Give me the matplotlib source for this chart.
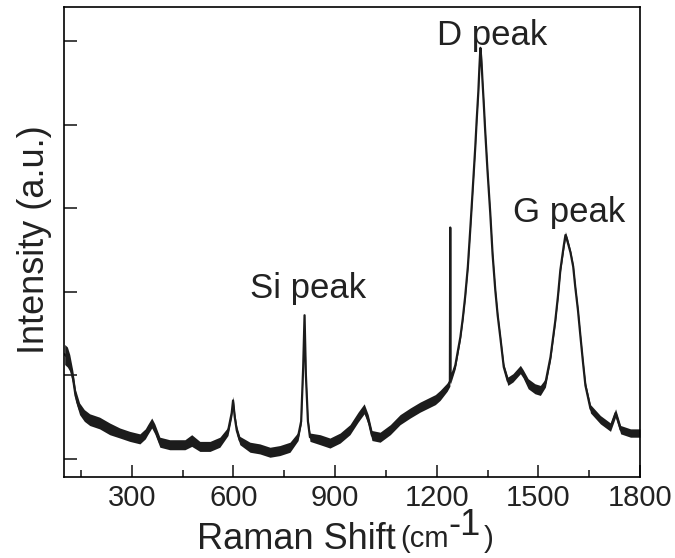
import matplotlib
matplotlib.use("Agg")
import matplotlib.pyplot as plt
import numpy as np

plt.rcParams['font.family'] = ['Liberation Sans', 'DejaVu Sans']

# values
raman_shift = [102, 110, 117, 126, 134, 146, 160, 176, 205, 235, 265, 294, 324, 340,
               347, 359, 368, 383, 412, 457, 477, 501, 531, 560, 584, 595, 599, 604,
               610, 619, 649, 678, 708, 737, 767, 791, 800, 806, 810, 814, 820, 826,
               856, 885, 915, 944, 968, 986, 998, 1009, 1033, 1063, 1092, 1122, 1151,
               1196, 1210, 1231, 1239, 1240, 1241, 1255, 1262, 1270, 1277, 1284, 1292,
               1299, 1306, 1314, 1318, 1323, 1326, 1329, 1332, 1335, 1339, 1343, 1350,
               1358, 1365, 1373, 1380, 1388, 1398, 1410, 1425, 1447, 1455, 1470,
               1490, 1506, 1521, 1536, 1550, 1558, 1565, 1575, 1580, 1585, 1595, 1603,
               1609, 1617, 1624, 1632, 1639, 1654, 1683, 1713, 1728, 1743, 1772, 1800]
intensity = [1.25, 1.22, 1.15, 0.98, 0.76, 0.60, 0.52, 0.47, 0.43, 0.36, 0.31, 0.27, 0.24, 0.30,
             0.35, 0.43, 0.36, 0.20, 0.17, 0.17, 0.22, 0.15, 0.15, 0.20, 0.33, 0.55, 0.70, 0.50,
             0.34, 0.22, 0.14, 0.12, 0.08, 0.10, 0.14, 0.27, 0.45, 1.10, 1.72, 1.00, 0.45, 0.26,
             0.23, 0.19, 0.25, 0.35, 0.50, 0.60, 0.47, 0.28, 0.26, 0.35, 0.47, 0.55, 0.62,
             0.71, 0.76, 0.86, 0.92, 2.77, 0.95, 1.12, 1.28, 1.46, 1.68, 1.94, 2.30,
             2.74, 3.20, 3.74, 4.05, 4.40, 4.68, 4.92, 4.78, 4.54, 4.25, 3.94, 3.45,
             2.95, 2.45, 2.02, 1.72, 1.45, 1.10, 0.93, 0.97, 1.07, 1.02, 0.90,
             0.84, 0.82, 0.91, 1.22, 1.65, 1.95, 2.26, 2.55, 2.68, 2.62, 2.47, 2.30,
             2.06, 1.78, 1.48, 1.15, 0.88, 0.60, 0.47, 0.38, 0.55, 0.35, 0.31, 0.31]
# half thickness of the noisy trace
noise = [0.12, 0.12, 0.10, 0.08, 0.07, 0.07, 0.07, 0.07, 0.07, 0.07, 0.06, 0.06, 0.06, 0.06,
         0.06, 0.06, 0.06, 0.06, 0.06, 0.06, 0.07, 0.06, 0.06, 0.06, 0.05, 0.05, 0.05, 0.05,
         0.05, 0.05, 0.06, 0.06, 0.06, 0.06, 0.06, 0.05, 0.04, 0.03, 0.02, 0.03, 0.04, 0.05,
         0.06, 0.06, 0.06, 0.06, 0.06, 0.06, 0.06, 0.06, 0.06, 0.06, 0.06, 0.06, 0.06,
         0.06, 0.06, 0.05, 0.05, 0.0, 0.05, 0.04, 0.04, 0.03, 0.03, 0.03, 0.03,
         0.03, 0.03, 0.03, 0.03, 0.03, 0.03, 0.03, 0.03, 0.03, 0.03, 0.03, 0.03,
         0.03, 0.03, 0.03, 0.03, 0.03, 0.04, 0.05, 0.05, 0.05, 0.05, 0.06,
         0.06, 0.06, 0.05, 0.04, 0.03, 0.03, 0.03, 0.04, 0.04, 0.04, 0.03, 0.03,
         0.03, 0.03, 0.03, 0.03, 0.04, 0.05, 0.05, 0.05, 0.05, 0.05, 0.05, 0.05]

x = np.array(raman_shift)
y = np.array(intensity)
w = np.array(noise)

fig = plt.figure(figsize=(6.75, 5.58), dpi=100)
ax = fig.add_axes([0.0948, 0.1452, 0.8533, 0.8423])

c = "#1c1c1c"
ax.fill_between(x, y - w, y + w, color=c, lw=0)
ax.plot(x, y, color=c, lw=1.6)

ax.set_xlim(100, 1800)
ax.set_ylim(-0.216, 5.41)
ax.set_xticks([300, 600, 900, 1200, 1500, 1800])
ax.set_xticks(np.arange(150, 1800, 300), minor=True)
ax.set_yticks([0, 1, 2, 3, 4, 5])
ax.set_yticklabels([])
for s in ax.spines.values():
    s.set_linewidth(1.2)
ax.tick_params(which='both', direction='in', width=1.2, colors='#222222')
ax.tick_params(which='major', length=9)
ax.tick_params(which='minor', length=5)
ax.tick_params(axis='x', pad=5)
for lab in ax.get_xticklabels():
    lab.set_fontsize(21)
    lab.set_color('#222222')

ax.set_ylabel("Intensity (a.u.)", fontsize=26, color='#222222')
ax.yaxis.set_label_coords(-0.021, 0.504)

ax.text(649, 1.93, "Si peak", fontsize=25, color='#222222', ha='left', va='baseline')
ax.text(1202, 4.96, "D peak", fontsize=25, color='#222222', ha='left', va='baseline')
ax.text(1426, 2.84, "G peak", fontsize=25, color='#222222', ha='left', va='baseline')

t1 = fig.text(197 / 675, 1 - 549 / 558, "Raman Shift", fontsize=26, color='#222222',
              ha='left', va='baseline')
t2 = ax.annotate("(cm", xy=(1, 0), xycoords=t1, xytext=(3, 3), textcoords='offset points',
                 fontsize=21, color='#222222', ha='left', va='bottom')
t3 = ax.annotate("-1", xy=(1, 0), xycoords=t2, xytext=(0, 7), textcoords='offset points',
                 fontsize=26, color='#222222', ha='left', va='bottom')
ax.annotate(")", xy=(1, 0), xycoords=t3, xytext=(2, -7), textcoords='offset points',
            fontsize=21, color='#222222', ha='left', va='bottom')

fig.savefig("out.png", dpi=100)
